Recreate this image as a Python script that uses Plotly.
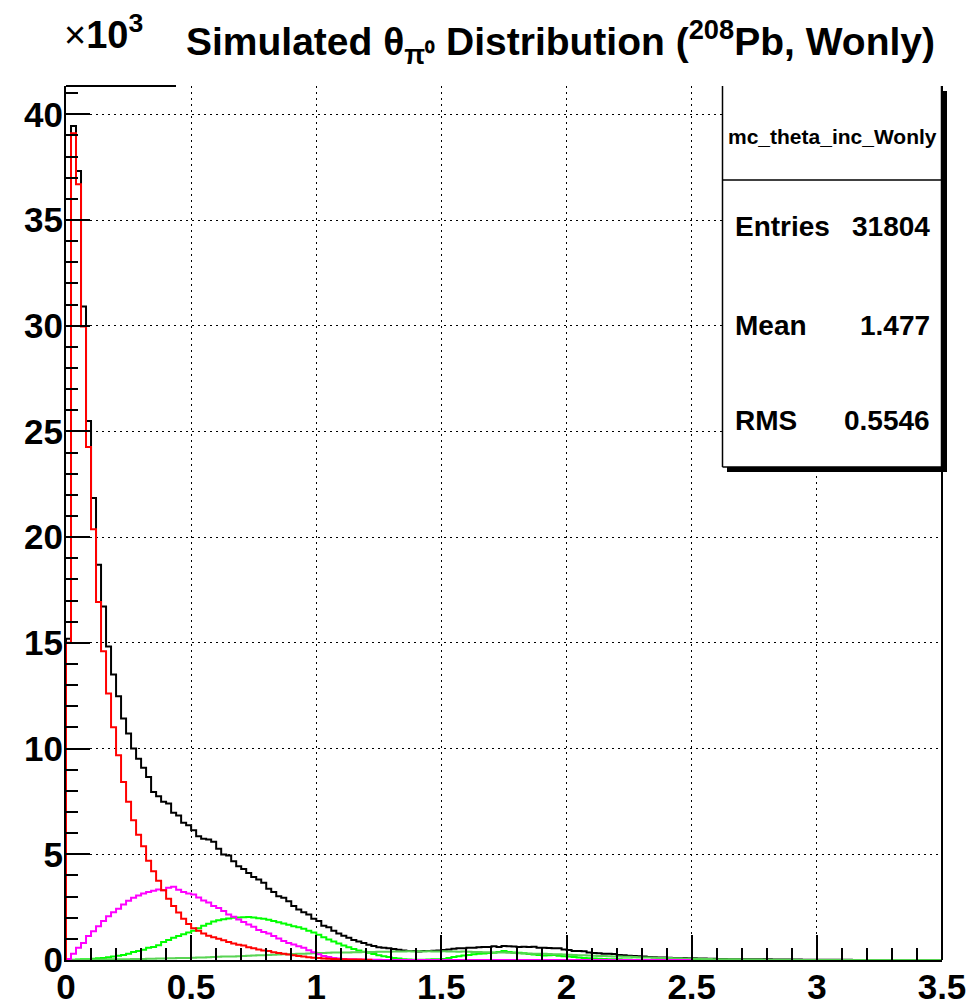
import numpy as np
import plotly.graph_objects as go

# ---------------- data (counts in units of 10^3, bin width 0.02, range 0-3.5) ----------------
bin_width = 0.02
n_bins = 175

total_counts = [
    15.2, 39.45, 37.32, 30.91, 25.50, 21.85, 18.70, 16.72, 14.83, 13.50,
    12.47, 11.42, 10.71, 10.00, 9.52, 9.09, 8.66, 7.95, 7.74, 7.48,
    7.40, 6.96, 6.84, 6.49, 6.37, 6.14, 5.85, 5.73, 5.70, 5.59,
    5.26, 4.99, 4.94, 4.67, 4.43, 4.31, 4.12, 3.93, 3.81, 3.65,
    3.37, 3.22, 3.02, 2.94, 2.78, 2.55, 2.39, 2.26, 2.15, 1.95,
    1.85, 1.62, 1.55, 1.38, 1.25, 1.15, 1.05, 0.95, 0.88, 0.80,
    0.72, 0.66, 0.60, 0.58, 0.55, 0.52, 0.48, 0.45, 0.42, 0.43,
    0.40, 0.42, 0.43, 0.44, 0.45, 0.47, 0.50, 0.53, 0.55, 0.56,
    0.58, 0.58, 0.60, 0.62, 0.61, 0.65, 0.62, 0.66, 0.65, 0.64,
    0.62, 0.63, 0.61, 0.63, 0.58, 0.58, 0.57, 0.56, 0.56, 0.50,
    0.47, 0.43, 0.42, 0.41, 0.35, 0.33, 0.32, 0.30, 0.29, 0.28,
    0.24, 0.22, 0.20, 0.19, 0.18, 0.17, 0.14, 0.13, 0.12, 0.12,
    0.11, 0.10, 0.09, 0.09, 0.08, 0.08, 0.07, 0.07, 0.06, 0.06,
    0.05, 0.05, 0.04, 0.04, 0.04, 0.04, 0.03, 0.03, 0.03, 0.03,
    0.03, 0.02, 0.02, 0.02, 0.02, 0.02, 0.02, 0.01, 0.01, 0.01,
    0.01, 0.01, 0.01, 0.01, 0.01, 0.01, 0.01,
]

red_counts = [
    15.0, 39.10, 36.69, 29.96, 24.26, 20.38, 16.93, 14.60, 12.60, 11.01,
    9.68, 8.42, 7.48, 6.61, 5.93, 5.38, 4.70, 4.20, 3.75, 3.30,
    2.90, 2.55, 2.25, 1.95, 1.70, 1.50, 1.38, 1.25, 1.15, 1.08,
    1.00, 0.93, 0.85, 0.78, 0.72, 0.68, 0.60, 0.55, 0.50, 0.45,
    0.42, 0.37, 0.33, 0.30, 0.26, 0.22, 0.19, 0.16, 0.13, 0.11,
    0.09, 0.07, 0.06, 0.05, 0.04, 0.03, 0.02, 0.02, 0.02, 0.01, 0.01,
]

magenta_counts = [
    0.05, 0.29, 0.58, 0.81, 1.13, 1.36, 1.60, 1.85, 2.07, 2.26,
    2.42, 2.62, 2.80, 2.95, 3.05, 3.15, 3.22, 3.28, 3.33, 3.30,
    3.42, 3.46, 3.32, 3.22, 3.15, 3.10, 2.96, 2.82, 2.72, 2.56,
    2.46, 2.32, 2.15, 2.04, 1.92, 1.80, 1.68, 1.57, 1.42, 1.32,
    1.25, 1.13, 1.02, 0.90, 0.81, 0.73, 0.65, 0.58, 0.46, 0.37,
    0.27, 0.19, 0.14, 0.10, 0.07, 0.05, 0.04, 0.03, 0.02, 0.02,
    0.01, 0.01, 0.01,
]
magenta_last_bin = 125

green_counts = [
    0.00, 0.01, 0.02, 0.03, 0.04, 0.06, 0.08, 0.10, 0.13, 0.16,
    0.20, 0.24, 0.30, 0.38, 0.42, 0.48, 0.58, 0.62, 0.70, 0.85,
    0.95, 1.05, 1.13, 1.22, 1.30, 1.38, 1.50, 1.62, 1.72, 1.82,
    1.88, 1.93, 1.96, 2.00, 2.01, 2.02, 2.03, 2.01, 1.98, 1.95,
    1.90, 1.84, 1.78, 1.73, 1.67, 1.60, 1.55, 1.48, 1.38, 1.30,
    1.20, 1.08, 0.97, 0.87, 0.78, 0.69, 0.60, 0.52, 0.45, 0.39,
    0.34, 0.28, 0.22, 0.18, 0.14, 0.10, 0.07, 0.04, 0.02, 0.01,
    0.01, 0.01, 0.02, 0.03, 0.04, 0.05, 0.09, 0.14, 0.18, 0.21,
    0.24, 0.27, 0.30, 0.31, 0.33, 0.34, 0.38, 0.42, 0.38, 0.36,
    0.34, 0.32, 0.28, 0.26, 0.24, 0.21, 0.22, 0.24, 0.20, 0.18,
    0.16, 0.14, 0.12, 0.10, 0.08, 0.07, 0.06, 0.05, 0.04, 0.03,
    0.03, 0.02, 0.02, 0.01, 0.01,
]

olive_counts = [
    0.00, 0.00, 0.01, 0.01, 0.01, 0.02, 0.02, 0.02, 0.03, 0.03,
    0.03, 0.04, 0.04, 0.05, 0.05, 0.05, 0.06, 0.06, 0.07, 0.07,
    0.08, 0.08, 0.09, 0.10, 0.10, 0.11, 0.12, 0.12, 0.13, 0.14,
    0.15, 0.16, 0.17, 0.17, 0.18, 0.19, 0.20, 0.21, 0.22, 0.23,
    0.24, 0.25, 0.26, 0.27, 0.27, 0.28, 0.29, 0.30, 0.31, 0.32,
    0.33, 0.33, 0.34, 0.35, 0.35, 0.36, 0.36, 0.37, 0.37, 0.38,
    0.38, 0.38, 0.39, 0.39, 0.39, 0.40, 0.40, 0.40, 0.41, 0.40,
    0.41, 0.40, 0.41, 0.40, 0.40, 0.41, 0.40, 0.40, 0.39, 0.40,
    0.39, 0.38, 0.38, 0.37, 0.37, 0.36, 0.35, 0.35, 0.34, 0.33,
    0.32, 0.31, 0.31, 0.30, 0.30, 0.29, 0.28, 0.27, 0.27, 0.26,
    0.25, 0.24, 0.23, 0.22, 0.21, 0.20, 0.19, 0.19, 0.18, 0.17,
    0.16, 0.15, 0.15, 0.14, 0.13, 0.12, 0.12, 0.11, 0.10, 0.10,
    0.09, 0.08, 0.08, 0.07, 0.07, 0.06, 0.06, 0.05, 0.05, 0.04,
    0.04, 0.04, 0.03, 0.03, 0.03, 0.02, 0.02, 0.02, 0.02, 0.01,
    0.01, 0.01, 0.01, 0.01, 0.01, 0.01,
]

x_tick_values = [0, 0.5, 1, 1.5, 2, 2.5, 3, 3.5]
y_tick_values = [0, 5, 10, 15, 20, 25, 30, 35, 40]

stats_name = "mc_theta_inc_Wonly"
stats_labels = ["Entries", "Mean", "RMS"]
stats_values = ["31804", "1.477", "0.5546"]

# ---------------- geometry (screen pixels; page body adds an 8px offset) ----------------
OFF = 8
W, H = 977, 1005
PL, PR, PT, PB = 66, 942, 86, 960          # plot area on screen
ML, MT = PL - OFF, PT - OFF
MR, MB = W + OFF - PR, H + OFF - PB
PW, PH = PR - PL, PB - PT
Y_MAX = 41.34


def px(xp):
    return (xp - PL) / PW


def py(yp):
    return (PB - yp) / PH


def step_xy(vals, last_bin=None):
    n = len(vals) if last_bin is None else last_bin
    v = list(vals) + [0.0] * max(0, n - len(vals))
    edges = np.arange(n + 1) * bin_width
    xs = [0.0] + list(edges[:-1]) + [edges[-1], edges[-1]]
    ys = [0.0] + v + [v[-1], 0.0]
    return xs, ys


fig = go.Figure()
series = [
    (total_counts, "#000000", n_bins),
    (green_counts, "#00ff00", n_bins),
    (olive_counts, "#59d454", n_bins),
    (magenta_counts, "#ff00ff", magenta_last_bin),
    (red_counts, "#ff0000", None),
]
for vals, col, lb in series:
    xs, ys = step_xy(vals, lb)
    fig.add_trace(go.Scatter(x=xs, y=ys, mode="lines", line=dict(color=col, width=2, shape="hv"),
                             showlegend=False, hoverinfo="skip", cliponaxis=True))

tickfont = dict(family="Liberation Sans", size=35, color="black", weight="bold")
fig.update_xaxes(range=[0, 3.5], tickvals=x_tick_values, ticktext=[f"{v:g}" for v in x_tick_values],
                 ticks="inside", ticklen=25, tickwidth=2, tickcolor="black", automargin=False,
                 showline=True, linecolor="black", linewidth=2,
                 showgrid=True, gridcolor="black", gridwidth=1, griddash="2px,4px",
                 zeroline=False, tickfont=tickfont, ticklabelstandoff=-5,
                 minor=dict(dtick=0.1, ticks="inside", ticklen=12, tickwidth=2, tickcolor="black", showgrid=False))
fig.update_yaxes(range=[0, Y_MAX], tickvals=y_tick_values, ticktext=[str(v) for v in y_tick_values],
                 ticks="inside", ticklen=24, tickwidth=2, tickcolor="black", automargin=False,
                 showline=True, linecolor="black", linewidth=2,
                 showgrid=True, gridcolor="black", gridwidth=1, griddash="2px,4px",
                 zeroline=False, tickfont=tickfont, ticklabelstandoff=-6,
                 minor=dict(dtick=1, ticks="inside", ticklen=12, tickwidth=2, tickcolor="black", showgrid=False))

shapes = []
# top frame segment and right frame
shapes.append(dict(type="line", xref="paper", yref="paper", x0=px(66), x1=px(176), y0=py(86), y1=py(86),
                   line=dict(color="black", width=2), layer="above"))
shapes.append(dict(type="line", xref="paper", yref="paper", x0=px(942), x1=px(942), y0=py(86), y1=py(960),
                   line=dict(color="black", width=2), layer="above"))
# stats box shadow + box
shapes.append(dict(type="rect", xref="paper", yref="paper", x0=px(727), x1=px(947), y0=py(91), y1=py(472),
                   fillcolor="black", line=dict(width=0), layer="above"))
shapes.append(dict(type="rect", xref="paper", yref="paper", x0=px(722), x1=px(942), y0=py(86), y1=py(467),
                   fillcolor="white", line=dict(width=0), layer="above"))
for (x0, y0, x1, y1) in [(722.5, 86, 722.5, 467), (941.5, 86, 941.5, 467), (722.5, 467, 941.5, 467),
                         (722.5, 180, 941.5, 180)]:
    shapes.append(dict(type="line", xref="paper", yref="paper", x0=px(x0), x1=px(x1), y0=py(y0), y1=py(y1),
                       line=dict(color="black", width=1.5), layer="above"))
fig.update_layout(shapes=shapes)

ann = []
ann.append(dict(text="Simulated θ<sub>π⁰</sub> Distribution (<sup>208</sup>Pb, Wonly)",
                x=px(560), y=py(42), xref="paper", yref="paper", xanchor="center", yanchor="middle",
                showarrow=False, font=dict(family="Liberation Sans", size=39, color="black", weight="bold")))
ann.append(dict(text="×<b>10<sup>3</sup></b>", x=px(62), y=py(58), xref="paper", yref="paper",
                xanchor="left", yanchor="bottom", showarrow=False,
                font=dict(family="Liberation Sans", size=38, color="black")))
ann.append(dict(text=stats_name, x=px(832), y=py(136), xref="paper", yref="paper", xanchor="center",
                yanchor="middle", showarrow=False,
                font=dict(family="Liberation Sans", size=21, color="black", weight="bold")))
for lab, val, yc in zip(stats_labels, stats_values, [227, 325, 420]):
    ann.append(dict(text=lab, x=px(733), y=py(yc), xref="paper", yref="paper", xanchor="left",
                    yanchor="middle", showarrow=False,
                    font=dict(family="Liberation Sans", size=28, color="black", weight="bold")))
    ann.append(dict(text=val, x=px(932), y=py(yc), xref="paper", yref="paper", xanchor="right",
                    yanchor="middle", showarrow=False,
                    font=dict(family="Liberation Sans", size=28, color="black", weight="bold")))
fig.update_layout(annotations=ann)

fig.update_layout(width=W, height=H, margin=dict(l=ML, r=MR, t=MT, b=MB, pad=0, autoexpand=False),
                  paper_bgcolor="white", plot_bgcolor="white", showlegend=False)
fig.write_html("out.html")
